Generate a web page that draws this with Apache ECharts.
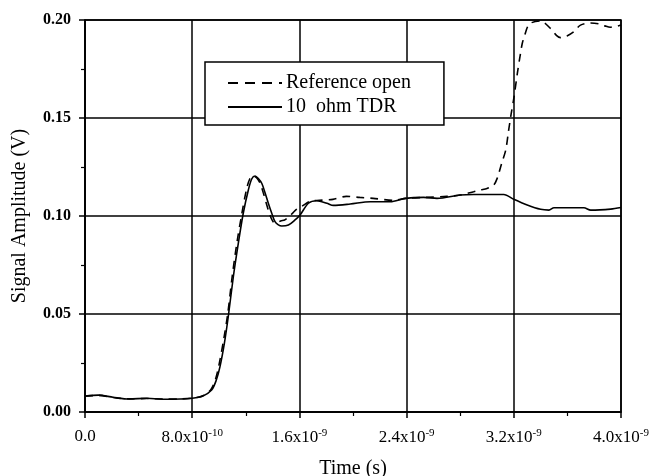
<!DOCTYPE html>
<html>
<head>
<meta charset="utf-8">
<style>
  html, body { margin: 0; padding: 0; background: #fff; }
  #chart { width: 652px; height: 476px; }
</style>
<script src="https://cdn.jsdelivr.net/npm/echarts@6/dist/echarts.min.js"></script>
</head>
<body>
<div id="chart"></div>
<script>
// Time axis is in nanoseconds; tick labels are written in seconds.
const xTickLabels = ['0.0', '8.0x10{e|-10}', '1.6x10{e|-9}', '2.4x10{e|-9}', '3.2x10{e|-9}', '4.0x10{e|-9}'];
const yTickLabels = ['0.00', '0.05', '0.10', '0.15', '0.20'];

const seriesNames = ['Reference open', '10  ohm TDR'];

// Reference open (dashed)
const openTime = [0.00, 0.10, 0.21, 0.33, 0.46, 0.58, 0.71, 0.80, 0.88, 0.94, 0.975, 1.00, 1.035, 1.065, 1.10, 1.135, 1.17, 1.205, 1.23, 1.255, 1.28, 1.305, 1.33, 1.355, 1.38, 1.405, 1.43, 1.46, 1.49, 1.52, 1.55, 1.58, 1.62, 1.68, 1.75, 1.85, 1.95, 2.05, 2.15, 2.30, 2.40, 2.55, 2.70, 2.80, 2.90, 2.95, 3.00, 3.05, 3.076, 3.11, 3.14, 3.16, 3.18, 3.20, 3.227, 3.25, 3.263, 3.28, 3.317, 3.40, 3.474, 3.52, 3.549, 3.60, 3.648, 3.698, 3.774, 3.836, 3.88, 3.92, 4.00];
const openAmp = [0.0080, 0.0085, 0.0074, 0.0067, 0.0069, 0.0066, 0.0067, 0.0071, 0.0083, 0.0115, 0.0170, 0.0240, 0.0370, 0.0500, 0.0700, 0.0870, 0.1010, 0.1135, 0.1190, 0.1205, 0.1195, 0.1170, 0.1120, 0.1060, 0.1005, 0.0970, 0.0965, 0.0975, 0.0980, 0.0995, 0.1015, 0.1035, 0.1050, 0.1075, 0.1080, 0.1085, 0.1100, 0.1095, 0.1090, 0.1080, 0.1090, 0.1095, 0.1100, 0.1107, 0.1124, 0.1133, 0.1140, 0.1158, 0.1192, 0.1270, 0.1337, 0.1430, 0.1520, 0.1600, 0.1730, 0.1830, 0.1880, 0.1920, 0.1980, 0.1995, 0.1957, 0.1920, 0.1910, 0.1920, 0.1940, 0.1974, 0.1985, 0.1980, 0.1970, 0.1963, 0.1974];

// 10 ohm TDR (solid)
const tdrTime = [0.00, 0.10, 0.21, 0.33, 0.46, 0.58, 0.71, 0.80, 0.88, 0.945, 0.98, 1.007, 1.04, 1.069, 1.107, 1.144, 1.181, 1.219, 1.245, 1.269, 1.295, 1.319, 1.343, 1.368, 1.393, 1.418, 1.443, 1.468, 1.518, 1.568, 1.605, 1.667, 1.73, 1.805, 1.854, 1.979, 2.129, 2.278, 2.39, 2.527, 2.627, 2.80, 2.90, 3.125, 3.20, 3.30, 3.40, 3.462, 3.50, 3.723, 3.774, 3.923, 4.00];
const tdrAmp = [0.0082, 0.0086, 0.0075, 0.0066, 0.0070, 0.0065, 0.0066, 0.0070, 0.0082, 0.0112, 0.0163, 0.0230, 0.0350, 0.0486, 0.0690, 0.0860, 0.1014, 0.1133, 0.1190, 0.1204, 0.1190, 0.1167, 0.1120, 0.1065, 0.1015, 0.0971, 0.0955, 0.0949, 0.0954, 0.0980, 0.1005, 0.1065, 0.1078, 0.1065, 0.1054, 0.1061, 0.1073, 0.1073, 0.1090, 0.1095, 0.1090, 0.1107, 0.1110, 0.1110, 0.1085, 0.1056, 0.1034, 0.1030, 0.1042, 0.1042, 0.1030, 0.1035, 0.1043];

const pair = (xs, ys) => xs.map((x, i) => [x, ys[i]]);
const serif = '"Liberation Serif", "DejaVu Serif", serif';

const chart = echarts.init(document.getElementById('chart'), null, { renderer: 'canvas' });
chart.setOption({
  animation: false,
  backgroundColor: '#fff',
  grid: {
    left: 85, right: 31, top: 20, bottom: 64,
    outerBoundsMode: 'none',
    containLabel: false,
    show: true, borderColor: '#000', borderWidth: 1.5
  },
  legend: {
    data: [
      { name: seriesNames[0], lineStyle: { type: [10, 7] } },
      { name: seriesNames[1] }
    ],
    orient: 'vertical',
    left: 205, top: 62,
    padding: [11, 33, 8, 22],
    itemWidth: 54, itemHeight: 14, itemGap: 4,
    itemStyle: { opacity: 0 },
    backgroundColor: '#fff',
    borderColor: '#000', borderWidth: 1.5, borderRadius: 0,
    textStyle: { fontFamily: serif, fontSize: 20, color: '#000', padding: [0, 0, 0, -1] }
  },
  xAxis: {
    type: 'value', min: 0, max: 4, interval: 0.8,
    name: 'Time (s)', nameLocation: 'middle', nameGap: 47,
    nameTextStyle: { fontFamily: serif, fontSize: 20, color: '#000' },
    axisLine: { show: true, lineStyle: { color: '#000', width: 1.5 } },
    axisTick: { show: true, inside: false, length: 6, lineStyle: { color: '#000', width: 1.5 } },
    minorTick: { show: true, splitNumber: 2, length: 4, lineStyle: { color: '#000', width: 1.2 } },
    splitLine: { show: true, lineStyle: { color: '#000', width: 1.5 } },
    axisLabel: {
      margin: 16, color: '#000', fontFamily: serif, fontSize: 17,
      formatter: v => xTickLabels[Math.round(v / 0.8)] || '',
      rich: {
        e: { fontFamily: serif, fontSize: 11, color: '#000', verticalAlign: 'top', padding: [0, 0, 8, 0] }
      }
    }
  },
  yAxis: {
    type: 'value', min: 0, max: 0.2, interval: 0.05,
    name: 'Signal Amplitude (V)', nameLocation: 'middle', nameGap: 55,
    nameTextStyle: { fontFamily: serif, fontSize: 20, color: '#000' },
    axisLine: { show: true, lineStyle: { color: '#000', width: 1.5 } },
    axisTick: { show: true, inside: false, length: 6, lineStyle: { color: '#000', width: 1.5 } },
    minorTick: { show: true, splitNumber: 2, length: 4, lineStyle: { color: '#000', width: 1.2 } },
    splitLine: { show: true, lineStyle: { color: '#000', width: 1.5 } },
    axisLabel: {
      margin: 14, color: '#000', fontFamily: serif, fontSize: 16, fontWeight: 'bold',
      formatter: v => yTickLabels[Math.round(v / 0.05)] || ''
    }
  },
  series: [
    {
      name: seriesNames[0], type: 'line', symbol: 'none', smooth: 0.3,
      data: pair(openTime, openAmp),
      lineStyle: { color: '#000', width: 1.6, type: [8, 6] },
      itemStyle: { color: '#000' },
      z: 3
    },
    {
      name: seriesNames[1], type: 'line', symbol: 'none', smooth: 0.3,
      data: pair(tdrTime, tdrAmp),
      lineStyle: { color: '#000', width: 1.6, type: 'solid' },
      itemStyle: { color: '#000' },
      z: 4
    }
  ]
});
</script>
</body>
</html>
